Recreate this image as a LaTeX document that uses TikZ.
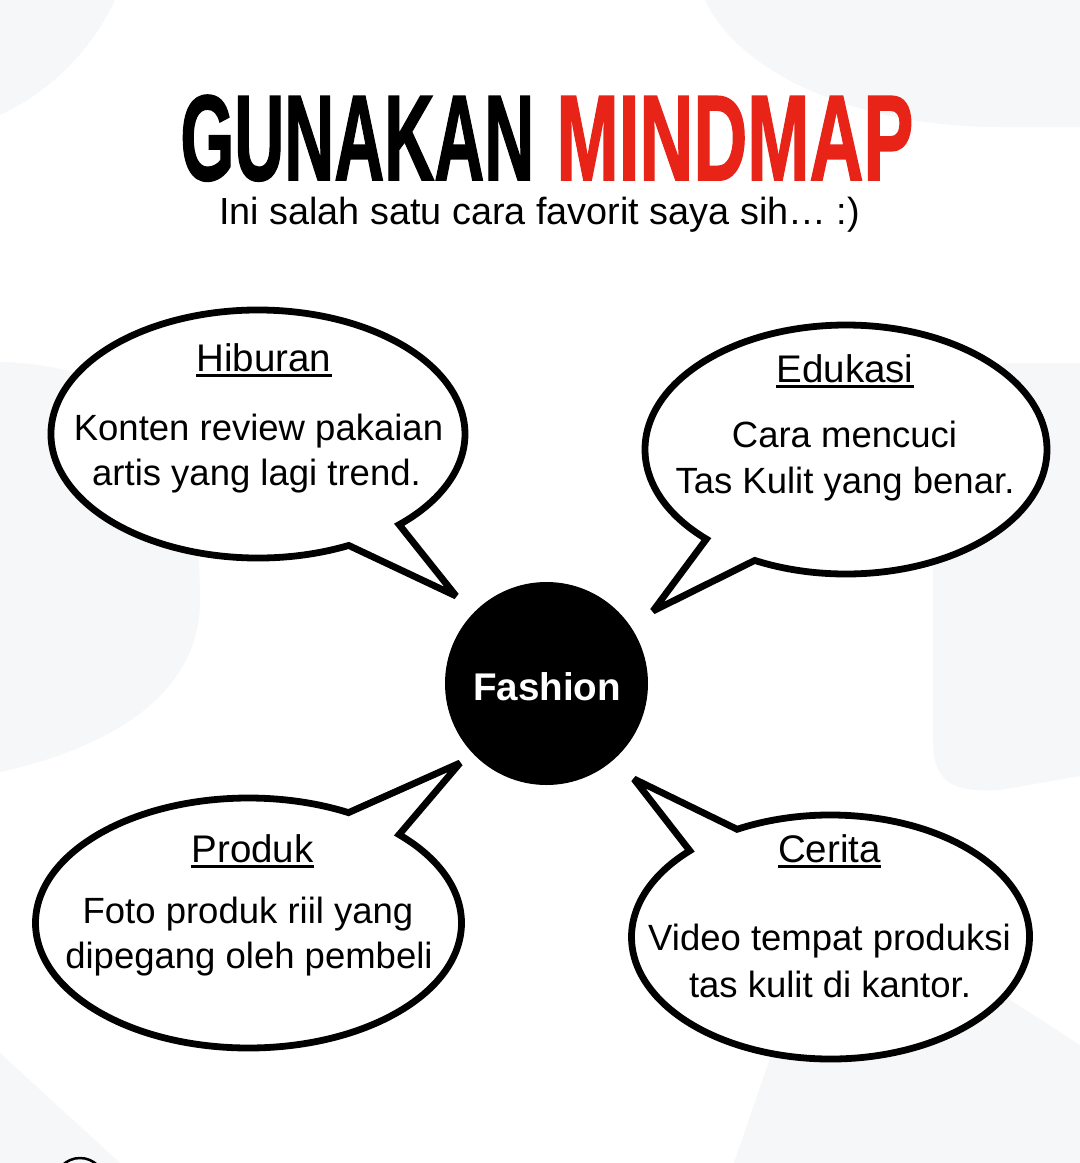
\documentclass[tikz,border=0pt]{standalone}
\usepackage{fontspec}
\setmainfont{Liberation Sans}
\newfontfamily\titlefont{Liberation Sans Bold}[FakeBold=1.6]
\definecolor{titlered}{RGB}{232,36,24}
\definecolor{bgfaint}{RGB}{246,247,249}
\begin{document}
\begin{tikzpicture}[x=0.5pt,y=-0.5pt,
  bubble/.style={draw=black, fill=white, line width=3.4pt, line join=miter, miter limit=3},
  bodytxt/.style={inner sep=0pt, anchor=base, font=\fontsize{18.25pt}{23pt}\selectfont},
  headtxt/.style={inner sep=0pt, anchor=base, font=\fontsize{19.25pt}{23pt}\selectfont},
  uline/.style={line width=1.25pt},
  titletxt/.style={inner sep=0pt, anchor=base west, font=\titlefont\fontsize{60.75pt}{70pt}\selectfont}]
\useasboundingbox (0,0) rectangle (1080,1163);
\fill[white] (0,0) rectangle (1080,1163);
% faint background shapes
\begin{scope}
\clip (0,0) rectangle (1080,1163);
\fill[bgfaint] (-100,-100) circle [radius=237];
\fill[bgfaint] (705,0) .. controls (740,75) and (860,127) .. (1000,127) -- (1080,127) -- (1080,0) -- cycle;
\fill[bgfaint] (0,362) .. controls (120,365) and (200,420) .. (200,600) .. controls (200,700) and (100,750) .. (0,772) -- cycle;
\fill[bgfaint] (1080,363) -- (948,363) .. controls (936,363) and (933,370) .. (933,382) -- (933,740) .. controls (933,785) and (955,792) .. (1000,790) -- (1080,776) -- cycle;
\fill[bgfaint] (790,1000) -- (1010,1000) -- (1080,1045) -- (1080,1163) -- (734,1163) -- cycle;
\fill[bgfaint] (0,1053) -- (120,1163) -- (0,1163) -- cycle;
\draw[line width=1.25pt] (80,1183) circle [radius=25];
\end{scope}
% title
\node[titletxt] (t1) at (180,180) {\scalebox{0.57}[1]{GUNAKAN}};
\node[titletxt, text=titlered] (t2) at (556,180) {\scalebox{0.615}[1]{MINDMAP}};
\node[inner sep=0pt, anchor=base, font=\fontsize{18.9pt}{22pt}\selectfont] (sub) at (539.5,224) {Ini salah satu cara favorit saya sih… :)};
% tips
\coordinate (tipA) at (456,596);
\coordinate (tipB) at (653,611);
\coordinate (tipC) at (460,763);
\coordinate (tipD) at (634,779);
% bubbles
\draw[bubble] (258,434) ++(64:207 and 124) arc[start angle=64, end angle=407, x radius=207, y radius=124] -- (tipA) -- cycle;
\draw[bubble] (846,449.5) ++(134:201 and 124.5) arc[start angle=134, end angle=477, x radius=201, y radius=124.5] -- (tipB) -- cycle;
\draw[bubble] (248.5,923) ++(-45:213 and 125) arc[start angle=-45, end angle=298, x radius=213, y radius=125] -- (tipC) -- cycle;
\draw[bubble] (830.5,937) ++(242:199 and 122) arc[start angle=242, end angle=585, x radius=199, y radius=122] -- (tipD) -- cycle;
% centre
\node[circle, fill=black, minimum size=101.5pt, inner sep=0pt] (fashion) at (546.5,683.5) {};
\node[inner sep=0pt, anchor=base, text=white, font=\bfseries\fontsize{19.3pt}{23pt}\selectfont] (fashiontxt) at (547,700) {Fashion};
% Hiburan
\node[headtxt] (h1) at (264,371) {Hiburan};
\draw[uline] ([yshift=-2.2pt]h1.base west) -- ([yshift=-2.2pt]h1.base east);
\node[bodytxt] (b1a) at (258.5,440) {Konten review pakaian};
\node[bodytxt] (b1b) at (256.5,485) {artis yang lagi trend.};
% Edukasi
\node[headtxt] (h2) at (845,382) {Edukasi};
\draw[uline] ([yshift=-2.2pt]h2.base west) -- ([yshift=-2.2pt]h2.base east);
\node[bodytxt] (b2a) at (844.5,447) {Cara mencuci};
\node[bodytxt] (b2b) at (845,493) {Tas Kulit yang benar.};
% Produk
\node[headtxt] (h3) at (252.5,862) {Produk};
\draw[uline] ([yshift=-2.2pt]h3.base west) -- ([yshift=-2.2pt]h3.base east);
\node[bodytxt] (b3a) at (248,923) {Foto produk riil yang};
\node[bodytxt] (b3b) at (249,968) {dipegang oleh pembeli};
% Cerita
\node[headtxt] (h4) at (829.5,862) {Cerita};
\draw[uline] ([yshift=-2.2pt]h4.base west) -- ([yshift=-2.2pt]h4.base east);
\node[bodytxt] (b4a) at (829.5,950) {Video tempat produksi};
\node[bodytxt] (b4b) at (830,997) {tas kulit di kantor.};
\end{tikzpicture}
\end{document}
